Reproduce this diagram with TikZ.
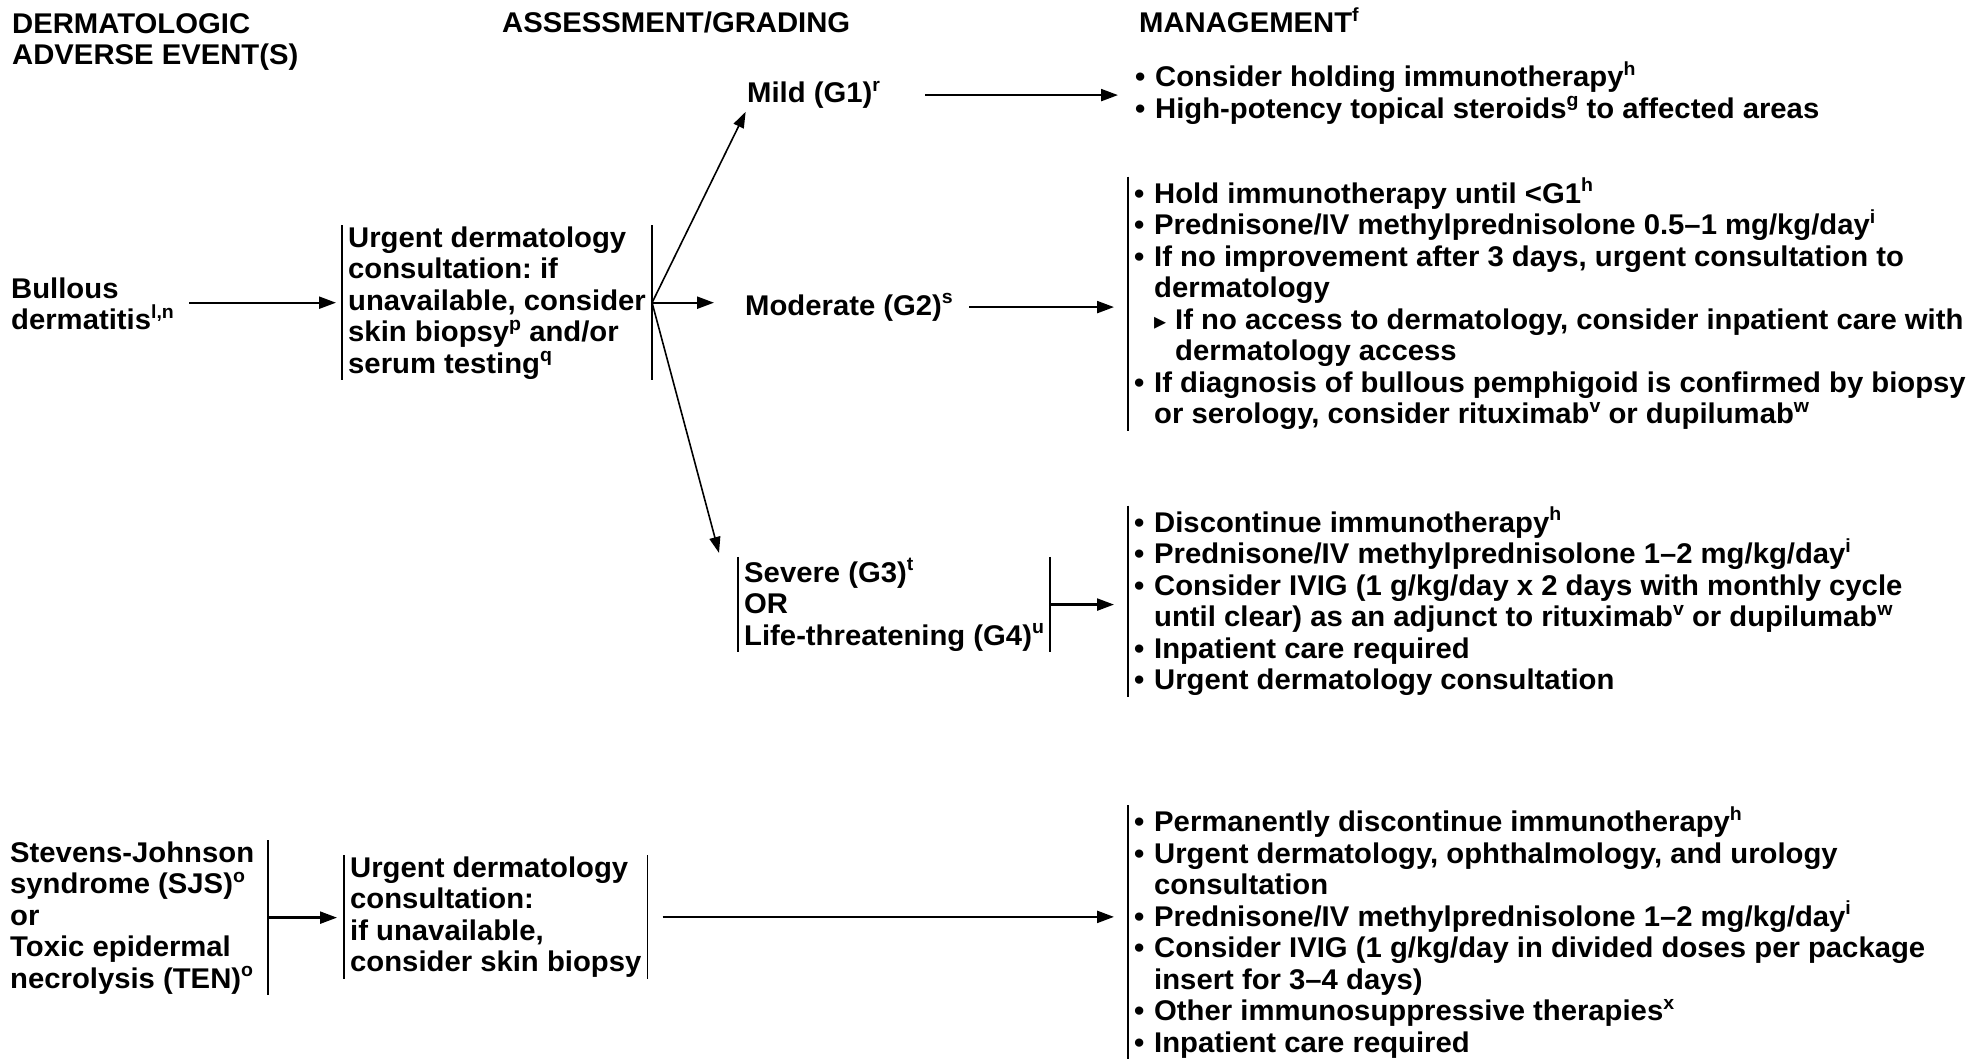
\documentclass[tikz,border=0pt]{standalone}
\usepackage{fontspec}
\setmainfont{Liberation Sans}[FakeStretch=1.027]
\newfontfamily\symfont{DejaVu Sans}
\usetikzlibrary{arrows.meta,calc}
\frenchspacing

% raised footnote letter
\newcommand\sps[1]{\raisebox{11.5pt}{\fontsize{19}{19}\selectfont #1}}
% list bullets and indents
\newcommand\bul{\makebox[20pt][l]{•}}
\newcommand\ind{\hspace*{20pt}}
\newcommand\subbul{\makebox[21pt][l]{\symfont\fontsize{24}{24}\selectfont ▸}}

% multi-line nodes are placed at the baseline of their last line
\begin{document}
\begin{tikzpicture}[x=1pt,y=-1pt,
  txt/.style={anchor=base west, inner sep=0pt, align=left,
    font={\fontsize{28.5}{31.5}\selectfont\bfseries\lineskiplimit=-50pt\relax}},
  barline/.style={draw, line width=1.8pt, -},
  lbar/.style={append after command={(\tikzlastnode.north west) edge[barline] (\tikzlastnode.south west)}},
  rbar/.style={append after command={(\tikzlastnode.north east) edge[barline] (\tikzlastnode.south east)}},
  boxed/.style={txt, inner xsep=6pt, inner ysep=1pt},
  arr/.style={draw, line width=2.3pt, -{Triangle[length=17pt,width=12pt]}},
  arrthin/.style={draw, line width=1.6pt, -{Triangle[length=16pt,width=11pt]}}
]
\useasboundingbox[fill=white] (0,0) rectangle (1969,1059);

% column headings
\node[txt] (hevent) at (12,65) {DERMATOLOGIC\\ADVERSE EVENT(S)};
\node[txt] (hgrade) at (502,33) {ASSESSMENT/GRADING};
\node[txt] (hmgmt) at (1139,33) {MANAGEMENT\sps{f}};

% bullous dermatitis
\node[txt] (bullous) at (11,329.5) {Bullous\\dermatitis\sps{l,n}};
\node[boxed, lbar, rbar] (consult1) at (342,373)
  {Urgent dermatology\\consultation: if\\unavailable, consider\\skin biopsy\sps{p} and/or\\serum testing\sps{q}};

\node[txt] (mild) at (747,103) {Mild (G1)\sps{r}};
\node[txt] (moderate) at (745,315) {Moderate (G2)\sps{s}};
\node[boxed, lbar, rbar] (severe) at (738,645)
  {Severe (G3)\sps{t}\\OR\\Life-threatening (G4)\sps{u}};

\node[txt, inner xsep=6pt] (mildmgmt) at (1129,118.5)
  {\bul Consider holding immunotherapy\sps{h}\\
   \bul High-potency topical steroids\sps{g} to affected areas};

\node[boxed, lbar] (modmgmt) at (1128,423.5)
  {\bul Hold immunotherapy until <G1\sps{h}\\
   \bul Prednisone/IV methylprednisolone 0.5–1 mg/kg/day\sps{i}\\
   \bul If no improvement after 3 days, urgent consultation to\\
   \ind dermatology\\
   \ind\subbul If no access to dermatology, consider inpatient care with\\
   \ind\hspace*{21pt}dermatology access\\
   \bul If diagnosis of bullous pemphigoid is confirmed by biopsy\\
   \ind or serology, consider rituximab\sps{v} or dupilumab\sps{w}};

\node[boxed, lbar] (sevmgmt) at (1128,689.5)
  {\bul Discontinue immunotherapy\sps{h}\\
   \bul Prednisone/IV methylprednisolone 1–2 mg/kg/day\sps{i}\\
   \bul Consider IVIG (1 g/kg/day x 2 days with monthly cycle\\
   \ind until clear) as an adjunct to rituximab\sps{v} or dupilumab\sps{w}\\
   \bul Inpatient care required\\
   \bul Urgent dermatology consultation};

% SJS / TEN
\node[txt, inner xsep=14pt, inner ysep=1pt, rbar] (sjs) at (-4,988)
  {Stevens-Johnson\\syndrome (SJS)\sps{o}\\or\\Toxic epidermal\\necrolysis (TEN)\sps{o}};
\node[boxed, lbar, rbar] (sjsconsult) at (344,971.5)
  {Urgent dermatology\\consultation:\\if unavailable,\\consider skin biopsy};
\node[boxed, lbar] (sjsmgmt) at (1128,1052)
  {\bul Permanently discontinue immunotherapy\sps{h}\\
   \bul Urgent dermatology, ophthalmology, and urology\\
   \ind consultation\\
   \bul Prednisone/IV methylprednisolone 1–2 mg/kg/day\sps{i}\\
   \bul Consider IVIG (1 g/kg/day in divided doses per package\\
   \ind insert for 3–4 days)\\
   \bul Other immunosuppressive therapies\sps{x}\\
   \bul Inpatient care required};

% connectors
\draw[arr, shorten <=15pt, shorten >=6pt] (bullous.east |- consult1.west) -- (consult1.west);
\draw[arrthin, shorten >=3pt] (consult1.east) -- (mild.south west);
\draw[arr, shorten >=31pt] (consult1.east) -- (consult1.east -| moderate.west);
\draw[arrthin] (consult1.east) -- ($(severe.north west)+(-19,-4)$);
\draw[arr, shorten <=45pt, shorten >=11pt] (mild.east) -- (mild.east -| mildmgmt.west);
\draw[arr, shorten <=16pt, shorten >=14pt] (moderate.east) -- (moderate.east -| modmgmt.west);
\draw[arr, shorten >=14pt] (severe.east) -- (severe.east -| sevmgmt.west);
\draw[arr, shorten >=7pt] (sjs.east) -- (sjs.east -| sjsconsult.west);
\draw[arr, shorten <=15pt, shorten >=14pt] (sjsconsult.east) -- (sjsconsult.east -| sjsmgmt.west);
\end{tikzpicture}
\end{document}
